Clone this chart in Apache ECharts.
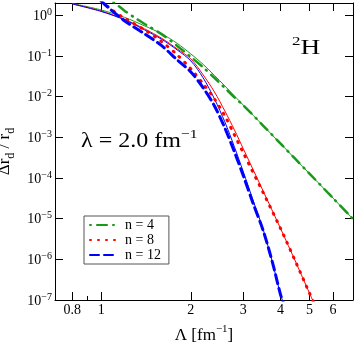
<!DOCTYPE html>
<html>
<head>
<meta charset="utf-8">
<script src="https://cdn.jsdelivr.net/npm/echarts@6/dist/echarts.min.js"></script>
<style>
  html, body { margin: 0; padding: 0; background: #fff; }
  #chart { width: 354px; height: 343px; }
</style>
</head>
<body>
<div id="chart"></div>
<script>
  // ticks
  var xMajor = [0.8, 1, 2, 3, 4, 5, 6];
  var xMinor = [0.9];
  var yMajor = [1e-7, 1e-6, 1e-5, 1e-4, 1e-3, 1e-2, 1e-1, 1];

  // n = 4 (dash-dot) and its solid green partner
  var lamN4 = [1.1, 1.2, 1.3, 1.4, 1.6, 1.8, 2.0, 2.2, 2.4, 2.6, 2.8, 3.0, 3.5, 4.0, 4.5, 5.0, 6.0, 7.0];
  var valN4 = [2.12, 1.28, 0.859, 0.611, 0.338, 0.176, 0.0945, 0.0522, 0.0288, 0.0164, 0.00955, 0.00608, 0.00192, 6.97e-4, 2.85e-4, 1.28e-4, 3.19e-5, 9.8e-6];
  var lamRef4 = [0.8, 1.0, 1.2, 1.4, 1.6, 1.8, 2.0, 2.2, 2.4, 2.6, 2.8, 3.0, 3.5, 4.0, 4.5, 5.0, 6.0, 7.0];
  var valRef4 = [1.95, 1.35, 0.883, 0.546, 0.347, 0.203, 0.112, 0.0618, 0.0332, 0.0183, 0.0104, 0.00618, 0.00192, 6.97e-4, 2.85e-4, 1.28e-4, 3.19e-5, 9.8e-6];

  // n = 8 (dotted) and solid red
  var lamN8 = [1.0, 1.1, 1.2, 1.4, 1.6, 1.8, 2.0, 2.2, 2.4, 2.6, 2.8, 3.0, 3.5, 4.0, 4.5, 5.0, 5.3];
  var valN8 = [2.25, 1.27, 0.834, 0.435, 0.221, 0.106, 0.0479, 0.0205, 0.00877, 0.00336, 1.15e-3, 4.14e-4, 4.30e-5, 5.71e-6, 8.49e-7, 1.48e-7, 5.8e-8];
  var lamRef8 = [0.8, 1.0, 1.2, 1.4, 1.6, 1.8, 2.0, 2.2, 2.4, 2.6, 2.8, 3.0, 3.5, 4.0, 4.5, 5.0, 5.3];
  var valRef8 = [1.90, 1.27, 0.788, 0.461, 0.269, 0.149, 0.0844, 0.0341, 0.0130, 0.00445, 1.52e-3, 5.19e-4, 4.69e-5, 5.71e-6, 8.49e-7, 1.48e-7, 5.8e-8];

  // n = 12 (dashed) and solid blue
  var lamN12 = [1.0, 1.05, 1.2, 1.4, 1.6, 1.8, 2.0, 2.2, 2.4, 2.6, 2.8, 3.0, 3.23, 3.5, 3.76, 4.0, 4.1];
  var valN12 = [2.25, 1.60, 0.724, 0.347, 0.176, 0.0797, 0.0404, 0.0164, 0.0059, 1.70e-3, 4.38e-4, 1.13e-4, 2.44e-5, 5.0e-6, 8.2e-7, 1.34e-7, 8.1e-8];
  var lamRef12 = [0.8, 1.0, 1.2, 1.4, 1.6, 1.8, 2.0, 2.2, 2.4, 2.6, 2.8, 3.0, 3.23, 3.5, 3.76, 4.0, 4.1];
  var valRef12 = [1.90, 1.24, 0.767, 0.435, 0.254, 0.140, 0.0754, 0.0288, 0.00877, 2.39e-3, 5.81e-4, 1.41e-4, 2.90e-5, 5.31e-6, 8.2e-7, 1.34e-7, 8.1e-8];

  var FONT = '"Liberation Serif", "DejaVu Serif", serif';
  var GREEN = '#17991a', RED = '#ff0000', BLUE = '#0000ff';

  function pairs(xs, ys) {
    return xs.map(function (x, i) { return [x, ys[i]]; });
  }

  function solid(data, color) {
    return {
      type: 'line', data: data, symbol: 'none', smooth: 0.3,
      lineStyle: { color: color, width: 1 }, itemStyle: { color: color },
      silent: true
    };
  }

  function marked(name, data, color, width, dash) {
    return {
      type: 'line', name: name, data: data, symbol: 'none', smooth: 0.3,
      lineStyle: { color: color, width: width, type: dash, cap: 'round' },
      itemStyle: { color: color }
    };
  }

  var tickLine = { color: '#000', width: 1 };

  var chart = echarts.init(document.getElementById('chart'));

  chart.setOption({
    animation: false,
    grid: { left: 55, right: 1, top: 3, bottom: 43, outerBoundsMode: 'none' },
    legend: {
      data: ['n = 4', 'n = 8', 'n = 12'],
      orient: 'vertical', left: 84, top: 216,
      itemWidth: 26, itemHeight: 12, itemGap: 1,
      padding: [2, 8, 2, 5],
      borderColor: '#555', borderWidth: 1, borderRadius: 0,
      backgroundColor: '#fff',
      itemStyle: { opacity: 0 },
      textStyle: { fontFamily: FONT, fontSize: 14, color: '#000', lineHeight: 14, padding: [0, 0, 0, 4] }
    },
    xAxis: [
      {
        type: 'log', min: 0.7, max: 7, position: 'bottom',
        axisLine: { lineStyle: tickLine },
        axisTick: { inside: true, length: 8, customValues: xMajor, lineStyle: tickLine },
        axisLabel: {
          customValues: xMajor, margin: 3,
          fontFamily: FONT, fontSize: 14, color: '#000',
          formatter: function (v) { return String(Number(v.toPrecision(3))); }
        },
        splitLine: { show: false }, minorTick: { show: false },
        name: '{m|\u039b [fm}{s|\u22121}{m|]}',
        nameLocation: 'middle', nameGap: 24,
        nameTextStyle: {
          rich: {
            m: { fontFamily: FONT, fontSize: 17, color: '#000', lineHeight: 20, verticalAlign: 'bottom' },
            s: { fontFamily: FONT, fontSize: 11, color: '#000', lineHeight: 11, verticalAlign: 'top' }
          }
        }
      },
      {
        type: 'log', min: 0.7, max: 7, position: 'top',
        axisLine: { lineStyle: tickLine },
        axisTick: { inside: true, length: 8, customValues: xMajor, lineStyle: tickLine },
        axisLabel: { show: false }, splitLine: { show: false }
      },
      {
        type: 'log', min: 0.7, max: 7, position: 'bottom',
        axisLine: { show: false },
        axisTick: { inside: true, length: 4, customValues: xMinor, lineStyle: tickLine },
        axisLabel: { show: false }, splitLine: { show: false }
      }
    ],
    yAxis: [
      {
        type: 'log', min: 1e-7, max: 2, position: 'left',
        axisLine: { lineStyle: tickLine },
        axisTick: { inside: true, length: 8, customValues: yMajor, lineStyle: tickLine },
        axisLabel: {
          customValues: yMajor, margin: 3,
          formatter: function (v) {
            var e = Math.round(Math.log(v) / Math.LN10);
            return '{b|10}{s|' + (e < 0 ? '\u2212' + (-e) : e) + '}';
          },
          rich: {
            b: { fontFamily: FONT, fontSize: 14, color: '#000', lineHeight: 16, verticalAlign: 'bottom' },
            s: { fontFamily: FONT, fontSize: 10, color: '#000', lineHeight: 10, verticalAlign: 'top' }
          }
        },
        splitLine: { show: false },
        name: '{m|\u0394r}{d|d}{m| / r}{d|d}',
        nameLocation: 'middle', nameRotate: 90, nameGap: 21,
        nameTextStyle: {
          rich: {
            m: { fontFamily: FONT, fontSize: 17, color: '#000', lineHeight: 20, verticalAlign: 'top' },
            d: { fontFamily: FONT, fontSize: 12, color: '#000', lineHeight: 12, verticalAlign: 'bottom' }
          }
        }
      },
      {
        type: 'log', min: 1e-7, max: 2, position: 'right',
        axisLine: { lineStyle: tickLine },
        axisTick: { inside: true, length: 8, customValues: yMajor, lineStyle: tickLine },
        axisLabel: { show: false }, splitLine: { show: false }
      }
    ],
    graphic: [
      {
        type: 'text', x: 292, y: 35, scaleX: 1.3,
        style: {
          text: '{s|2}{m|H}', align: 'left', verticalAlign: 'top',
          rich: {
            s: { fontFamily: FONT, fontSize: 13, fill: '#000', lineHeight: 13, verticalAlign: 'top' },
            m: { fontFamily: FONT, fontSize: 21, fill: '#000', lineHeight: 24, verticalAlign: 'bottom' }
          }
        }
      },
      {
        type: 'text', x: 81, y: 128, scaleX: 1.2,
        style: {
          text: '{m|\u03bb = 2.0 fm}{s|\u22121}', align: 'left', verticalAlign: 'top',
          rich: {
            m: { fontFamily: FONT, fontSize: 20, fill: '#000', lineHeight: 24, verticalAlign: 'bottom' },
            s: { fontFamily: FONT, fontSize: 13, fill: '#000', lineHeight: 13, verticalAlign: 'top' }
          }
        }
      }
    ],
    series: [
      solid(pairs(lamRef4, valRef4), GREEN),
      solid(pairs(lamRef8, valRef8), RED),
      solid(pairs(lamRef12, valRef12), BLUE),
      marked('n = 4', pairs(lamN4, valN4), GREEN, 2.5, [1, 6, 10, 6]),
      marked('n = 8', pairs(lamN8, valN8), RED, 3, [1, 7]),
      marked('n = 12', pairs(lamN12, valN12), BLUE, 3, [9, 5])
    ]
  });
</script>
</body>
</html>
